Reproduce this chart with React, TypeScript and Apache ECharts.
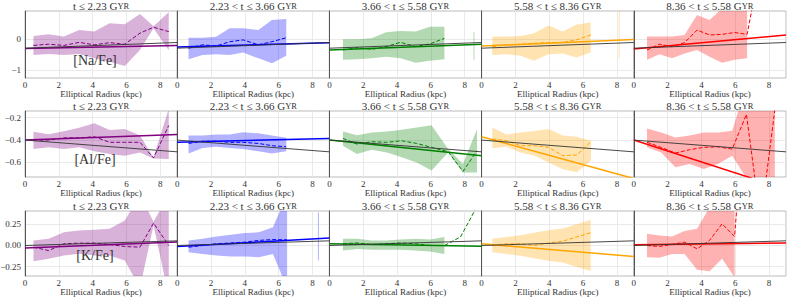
import React, { useEffect, useRef } from 'react';
import * as echarts from 'echarts';

// ---------- labels ----------
const AGE_BINS = ['t ≤ 2.23 ', '2.23 < t ≤ 3.66 ', '3.66 < t ≤ 5.58 ', '5.58 < t ≤ 8.36 ', '8.36 < t ≤ 5.58 '];
const ELEMENTS = ['[Na/Fe]', '[Al/Fe]', '[K/Fe]'];
const X_NAME = 'Elliptical Radius (kpc)';
const COLORS = ['#800080', '#0000ff', '#008000', '#ffa500', '#ff0000'];
const X_TICKS = [0, 2, 4, 6, 8];
const FIT_X = [0, 9];

// ---------- y axis ticks per row ----------
const NA_TICKS = [0, -1];
const AL_TICKS = [-0.2, -0.4, -0.6];
const K_TICKS = [0.25, 0, -0.25];
const Y_RANGE = [[-1.26, 0.92], [-0.73, -0.14], [-0.36, 0.407]];

// ---------- [Na/Fe] ----------
const naRadius = [
  [0.5, 1.4, 2.3, 3.2, 4.1, 5.0, 5.9, 6.8, 7.6, 8.5],
  [0.67, 1.5, 2.3, 3.1, 3.9, 4.8, 5.6, 6.45],
  [0.8, 1.65, 2.5, 3.35, 4.2, 5.1, 5.95, 6.8],
  [0.63, 1.46, 2.3, 3.1, 3.95, 4.8, 5.6, 6.45],
  [0.78, 1.52, 2.26, 3.0, 3.74, 4.48, 5.22, 5.96, 6.7, 7.1],
];
const naMedian = [
  [-0.2, -0.16, -0.2, -0.1, -0.18, -0.11, -0.16, 0.2, 0.39, 0.25],
  [-0.29, -0.18, -0.22, -0.08, -0.02, -0.18, -0.08, 0.05],
  [-0.35, -0.27, -0.33, -0.24, -0.1, -0.24, -0.15, 0.03],
  [-0.24, -0.18, -0.16, -0.13, -0.11, -0.1, -0.02, 0.14],
  [-0.35, -0.16, -0.24, -0.11, 0.3, 0.14, 0.16, 0.22, 0.16, 1.3],
];
const naLow = [
  [-0.51, -0.48, -0.51, -0.48, -0.62, -0.73, -0.87, -0.35, 0.36, -0.36],
  [-0.65, -0.51, -0.49, -0.51, -0.43, -0.62, -0.78, -0.54],
  [-0.67, -0.65, -0.62, -0.57, -0.62, -0.76, -0.7, -0.65],
  [-0.51, -0.49, -0.54, -0.7, -0.49, -0.46, -0.59, -0.43],
  [-0.67, -0.49, -0.62, -0.46, -0.35, -0.57, -0.76, -0.67, -0.62],
];
const naHigh = [
  [0.11, 0.16, 0.09, 0.3, 0.25, 0.52, 0.49, 0.82, 0.42, 0.88],
  [0.05, 0.05, 0.08, 0.36, 0.36, 0.3, 0.63, 0.66],
  [0.0, 0.0, 0.03, 0.23, 0.27, 0.25, 0.41, 0.41],
  [0.09, 0.09, 0.11, 0.2, 0.45, 0.25, 0.47, 0.55],
  [0.09, 0.09, 0.09, 0.14, 0.79, 0.63, 1.0, 0.96, 0.96],
];
const naSpikeX = [null, null, 8.55, 8.14, null];
const naSpikeLow = [null, null, -0.67, -0.62, null];
const naSpikeHigh = [null, null, 0.23, 0.95, null];
const naFitStart = [-0.3, -0.25, -0.35, -0.22, -0.32];
const naFitEnd = [-0.2, -0.11, -0.16, -0.01, 0.14];
const naAll = [-0.29, -0.105];

// ---------- [Al/Fe] ----------
const alRadius = [
  [0.5, 1.4, 2.3, 3.2, 4.1, 5.0, 5.9, 6.8, 7.6, 8.5],
  [0.67, 1.5, 2.3, 3.1, 3.9, 4.8, 5.6, 6.45],
  [0.8, 1.63, 2.5, 3.4, 4.27, 5.16, 6.04, 7.02, 7.9, 8.73],
  [0.63, 1.47, 2.3, 3.14, 3.96, 4.8, 5.63, 6.47],
  [0.78, 1.62, 2.46, 3.3, 4.14, 4.98, 5.82, 6.66, 7.5, 8.34],
];
const alMedian = [
  [-0.4, -0.4, -0.38, -0.38, -0.37, -0.42, -0.42, -0.42, -0.56, -0.27],
  [-0.43, -0.41, -0.41, -0.42, -0.42, -0.43, -0.45, -0.46],
  [-0.385, -0.436, -0.415, -0.42, -0.406, -0.43, -0.465, -0.504, -0.68, -0.495],
  [-0.39, -0.406, -0.45, -0.45, -0.465, -0.54, -0.533, -0.415],
  [-0.42, -0.465, -0.516, -0.486, -0.465, -0.46, -0.48, -0.17, -1.125, -0.13],
];
const alLow = [
  [-0.48, -0.465, -0.48, -0.465, -0.5, -0.524, -0.54, -0.51, -0.565, -0.57],
  [-0.52, -0.47, -0.46, -0.47, -0.48, -0.5, -0.52, -0.5],
  [-0.45, -0.524, -0.486, -0.51, -0.554, -0.6, -0.673, -0.51, -0.69, -0.69],
  [-0.474, -0.46, -0.51, -0.54, -0.6, -0.66, -0.687, -0.584],
  [-0.465, -0.51, -0.643, -0.613, -0.658, -0.613, -0.54, -0.74, -1.3, -0.9],
];
const alHigh = [
  [-0.326, -0.347, -0.32, -0.29, -0.25, -0.31, -0.3, -0.36, -0.555, -0.12],
  [-0.36, -0.36, -0.35, -0.35, -0.33, -0.34, -0.36, -0.38],
  [-0.323, -0.356, -0.332, -0.323, -0.308, -0.287, -0.267, -0.48, -0.613, -0.302],
  [-0.287, -0.35, -0.332, -0.318, -0.302, -0.36, -0.37, -0.405],
  [-0.296, -0.332, -0.376, -0.36, -0.332, -0.332, -0.317, 0.1, 0.1, 0.1],
];
const alSpikeX = [null, null, null, null, null];
const alSpikeLow = [null, null, null, null, null];
const alSpikeHigh = [null, null, null, null, null];
const alFitStart = [-0.4, -0.42, -0.4, -0.37, -0.4];
const alFitEnd = [-0.35, -0.385, -0.54, -0.744, -0.84];
const alAll = [-0.4, -0.505];

// ---------- [K/Fe] ----------
const kRadius = [
  [0.5, 1.4, 2.3, 3.2, 4.1, 5.0, 5.9, 6.8, 7.6, 8.5],
  [0.67, 1.5, 2.33, 3.17, 4.0, 4.83, 5.66, 6.5],
  [0.8, 1.65, 2.5, 3.35, 4.2, 5.1, 5.95, 6.8, 7.75, 8.7],
  [0.63, 1.46, 2.3, 3.1, 3.95, 4.8, 5.6, 6.45],
  [0.78, 1.52, 2.26, 3.0, 3.74, 4.48, 5.22, 5.96, 6.7],
];
const kMedian = [
  [-0.02, -0.06, 0.02, 0.028, 0.028, 0.012, -0.012, -0.02, 0.264, 0.0],
  [-0.02, 0.0, 0.02, 0.03, 0.04, 0.06, 0.07, 0.067],
  [0.02, 0.03, 0.01, 0.02, 0.03, 0.02, 0.0, 0.0, 0.1, 0.45],
  [0.0, 0.02, 0.02, 0.0, 0.03, 0.05, 0.1, 0.15],
  [0.0, -0.012, 0.012, 0.04, -0.04, 0.06, 0.256, 0.106, 2.0],
];
const kLow = [
  [-0.185, -0.157, -0.118, -0.098, -0.118, -0.118, -0.177, -0.5, 0.24, -0.6],
  [-0.08, -0.1, -0.118, -0.13, -0.13, -0.138, -0.1, -0.5],
  [-0.06, -0.04, -0.05, -0.05, -0.05, -0.06, -0.07, -0.1],
  [-0.08, -0.1, -0.12, -0.15, -0.18, -0.2, -0.25, -0.3],
  [-0.138, -0.146, -0.1, -0.1, -0.287, -0.303, -0.157, -0.374],
];
const kHigh = [
  [0.06, 0.08, 0.157, 0.177, 0.185, 0.197, 0.295, 0.6, 0.28, 0.6],
  [0.06, 0.08, 0.106, 0.126, 0.146, 0.157, 0.216, 0.6],
  [0.08, 0.08, 0.06, 0.06, 0.07, 0.08, 0.07, 0.1],
  [0.08, 0.1, 0.12, 0.15, 0.18, 0.2, 0.25, 0.3],
  [0.138, 0.118, 0.106, 0.17, 0.197, 0.45, 0.6, 0.6],
];
const kSpikeX = [null, 8.35, null, null, null];
const kSpikeLow = [null, -0.177, null, null, null];
const kSpikeHigh = [null, 0.39, null, null, null];
const kFitStart = [-0.03, -0.012, 0.02, 0.02, 0.008];
const kFitEnd = [0.04, 0.087, -0.01, -0.13, 0.03];
const kAll = [0.0, 0.055];

// ---------- layout ----------
const FONT = 'Liberation Serif';
const COL_LEFT = 25;
const COL_W = 152.2;
const ROW_TOP = [11, 111, 211];
const ROW_H = [67, 66, 65];
const TEXT = '#333';
const GRID_LINE = '#e4e4e4';

const MINUS = '\u2212';
const fmt = (v: number, d: number) => {
  const s = Math.abs(v).toFixed(d);
  return v < -1e-9 ? MINUS + s : s;
};

const ROWS = [
  { radius: naRadius, median: naMedian, low: naLow, high: naHigh, sx: naSpikeX, slo: naSpikeLow, shi: naSpikeHigh, fs: naFitStart, fe: naFitEnd, all: naAll, ticks: NA_TICKS, dec: 0 },
  { radius: alRadius, median: alMedian, low: alLow, high: alHigh, sx: alSpikeX, slo: alSpikeLow, shi: alSpikeHigh, fs: alFitStart, fe: alFitEnd, all: alAll, ticks: AL_TICKS, dec: 1 },
  { radius: kRadius, median: kMedian, low: kLow, high: kHigh, sx: kSpikeX, slo: kSpikeLow, shi: kSpikeHigh, fs: kFitStart, fe: kFitEnd, all: kAll, ticks: K_TICKS, dec: 2 },
];

function buildOption() {
  const grid: any[] = [];
  const xAxis: any[] = [];
  const yAxis: any[] = [];
  const series: any[] = [];
  const graphic: any[] = [];

  ROWS.forEach((row, r) => {
    for (let c = 0; c < 5; c++) {
      const idx = r * 5 + c;
      const color = COLORS[c];
      grid.push({
        left: COL_LEFT + c * COL_W,
        top: ROW_TOP[r],
        width: COL_W,
        height: ROW_H[r],
        show: true,
        borderColor: '#aaaaaa',
        borderWidth: 0.8,
        containLabel: false,
        outerBoundsMode: 'none',
      });
      xAxis.push({
        type: 'value',
        gridIndex: idx,
        min: 0,
        max: 9,
        interval: 2,
        axisLine: { show: false },
        axisTick: { show: false },
        axisLabel: {
          fontFamily: FONT,
          fontSize: 9,
          color: TEXT,
          margin: 2,
          formatter: (v: number) => (X_TICKS.includes(v) ? String(v) : ''),
        },
        splitLine: { show: true, lineStyle: { color: GRID_LINE, width: 0.8 } },
        name: X_NAME,
        nameLocation: 'middle',
        nameGap: 9,
        nameTextStyle: { fontFamily: FONT, fontSize: 9, color: TEXT },
      });
      yAxis.push({
        type: 'value',
        gridIndex: idx,
        min: Y_RANGE[r][0],
        max: Y_RANGE[r][1],
        axisLine: { show: true, onZero: false, lineStyle: { color: '#555', width: 1 } },
        axisTick: { show: false, customValues: row.ticks },
        axisLabel: {
          show: c === 0,
          customValues: row.ticks,
          fontFamily: FONT,
          fontSize: 9,
          color: TEXT,
          margin: 4,
          formatter: (v: number) => fmt(v, row.dec),
        },
        splitLine: { show: true, lineStyle: { color: GRID_LINE, width: 0.8 } },
      });

      const xs = row.radius[c];
      const lo = row.low[c];
      const hi = row.high[c];
      const bandData = lo.map((v, i) => [xs[i], v, hi[i]]);
      series.push({
        type: 'custom',
        xAxisIndex: idx,
        yAxisIndex: idx,
        silent: true,
        clip: true,
        z: 2,
        data: bandData,
        encode: { x: 0, y: [1, 2] },
        renderItem: (params: any, api: any) => {
          if (params.dataIndex !== 0) return null;
          const top = bandData.map((d) => api.coord([d[0], d[2]]));
          const bottom = bandData.map((d) => api.coord([d[0], d[1]])).reverse();
          return {
            type: 'polygon',
            shape: { points: top.concat(bottom) },
            style: { fill: color, opacity: 0.3, stroke: 'none' },
          };
        },
      });
      const base = { type: 'line', xAxisIndex: idx, yAxisIndex: idx, symbol: 'none', silent: true, clip: true };
      if (row.sx[c] != null) {
        series.push({
          ...base,
          data: [[row.sx[c], row.slo[c]], [row.sx[c], row.shi[c]]],
          lineStyle: { color, opacity: 0.3, width: 1 },
          z: 2,
        });
      }
      series.push({
        ...base,
        data: row.median[c].map((v, i) => [xs[i], v]),
        lineStyle: { color, width: 1, type: [4, 2] },
        z: 3,
      });
      series.push({
        ...base,
        data: [[FIT_X[0], row.fs[c]], [FIT_X[1], row.fe[c]]],
        lineStyle: { color, width: 1.5 },
        z: 4,
      });
      series.push({
        ...base,
        data: [[FIT_X[0], row.all[0]], [FIT_X[1], row.all[1]]],
        lineStyle: { color: '#333', width: 0.9 },
        z: 5,
      });

      graphic.push({
        type: 'text',
        x: COL_LEFT + COL_W * (c + 0.5),
        y: ROW_TOP[r] - 5.5,
        silent: true,
        style: {
          text: `{n|${AGE_BINS[c]}G}{s|YR}`,
          textAlign: 'center',
          textVerticalAlign: 'middle',
          align: 'center',
          verticalAlign: 'middle',
          fill: TEXT,
          rich: {
            n: { fontFamily: FONT, fontSize: 11, fill: TEXT },
            s: { fontFamily: FONT, fontSize: 8.5, fill: TEXT },
          },
        },
      });
    }
    graphic.push({
      type: 'text',
      x: 95,
      y: ROW_TOP[r] + [49, 48, 44][r],
      silent: true,
      z: 100,
      style: {
        text: ELEMENTS[r],
        textAlign: 'center',
        textVerticalAlign: 'middle',
        align: 'center',
        verticalAlign: 'middle',
        fill: TEXT,
        fontFamily: FONT,
        fontSize: 14,
      },
    });
  });

  return { animation: false, backgroundColor: '#fff', grid, xAxis, yAxis, series, graphic };
}

export default function App() {
  const ref = useRef<HTMLDivElement>(null);
  useEffect(() => {
    if (!ref.current) return;
    const chart = echarts.init(ref.current, undefined, { renderer: 'svg' });
    chart.setOption(buildOption() as any);
    return () => chart.dispose();
  }, []);
  return <div ref={ref} style={{ width: 789, height: 298, position: 'absolute', left: 0, top: 0 }} />;
}
